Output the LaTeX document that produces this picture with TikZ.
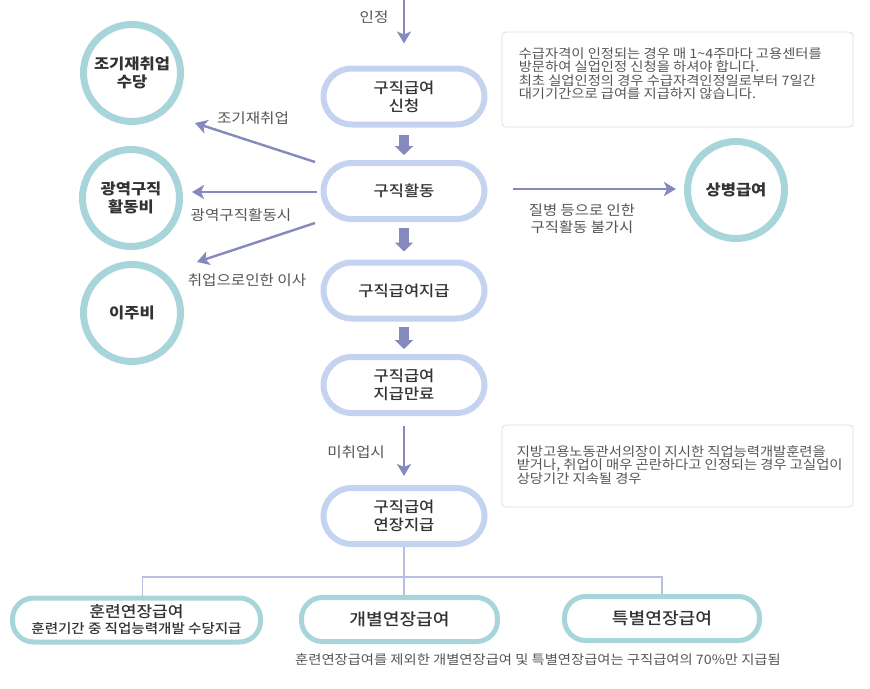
\documentclass[tikz,border=0pt]{standalone}
\usepackage{fontspec}
\setmainfont{Noto Sans CJK KR}[FakeStretch=1.1]
\newfontfamily\medfont{Noto Sans CJK KR}[UprightFont=* Medium, FakeStretch=1.1]
\usetikzlibrary{arrows.meta}
\definecolor{boxblue}{HTML}{C3D3F0}
\definecolor{tealc}{HTML}{A8D5D9}
\definecolor{arrowc}{HTML}{8589BC}
\definecolor{treec}{HTML}{B9BEE3}
\definecolor{notec}{HTML}{DDDDDD}
\definecolor{txt}{HTML}{333333}
\definecolor{lbl}{HTML}{555555}
\tikzset{
  flowbox/.style={draw=boxblue, line width=6pt, rounded corners=28pt, fill=white,
    minimum width=161pt, minimum height=56pt, align=center, text=txt,
    font=\medfont\fontsize{15}{18}\selectfont, inner sep=0pt},
  circ/.style={circle, draw=tealc, line width=7pt, minimum size=97pt, align=center,
    text=txt, font=\fontsize{15}{18}\selectfont\bfseries, inner sep=0pt},
  endbox/.style={draw=tealc, line width=5pt, rounded corners=21pt, fill=white,
    minimum height=44pt, align=center, text=txt, inner sep=0pt,
    font=\medfont\fontsize{16.5}{18}\selectfont},
  notebox/.style={draw=notec, line width=0.8pt, rounded corners=4pt, fill=white},
  notetext/.style={align=left, text=lbl, inner sep=0pt,
    font=\fontsize{13}{13.3}\selectfont},
  lab/.style={text=lbl, inner sep=0pt, font=\fontsize{14.2}{18}\selectfont, align=center},
  fat/.style={draw=arrowc, line width=10pt, -{Triangle[width=18pt,length=9pt]}},
  thin/.style={draw=arrowc, line width=2.4pt, -{Stealth[length=12pt,width=14pt,inset=3pt]}},
  tree/.style={draw=treec, line width=1.2pt},
}
\begin{document}
\begin{tikzpicture}[x=1pt,y=-1pt]
\useasboundingbox (0,0) rectangle (870,688);
% main flow
\node[flowbox] (b1) at (404,96.5) {구직급여\\신청};
\node[flowbox] (b2) at (404,191) {구직활동};
\node[flowbox] (b3) at (404,290.5) {구직급여지급};
\node[flowbox] (b4) at (404,385) {구직급여\\지급만료};
\node[flowbox] (b5) at (404,516) {구직급여\\연장지급};
% circles
\node[circ] (c1) at (132,73) {조기재취업\\수당};
\node[circ] (c2) at (131,198) {광역구직\\활동비};
\node[circ] (c3) at (132,313) {이주비};
\node[circ] (c4) at (736,190) {상병급여};
% notes
\node[notebox, minimum width=351pt, minimum height=95pt] (n1) at (677.5,79.5) {};
\node[notetext, anchor=north west] (n1t) at ([shift={(17,16)}]n1.north west)
  {수급자격이 인정되는 경우 매 1\textasciitilde4주마다 고용센터를\\방문하여 실업인정 신청을 하셔야 합니다.\\최초 실업인정의 경우 수급자격인정일로부터 7일간\\대기기간으로 급여를 지급하지 않습니다.};
\node[notebox, minimum width=351pt, minimum height=82pt] (n2) at (677.5,466) {};
\node[notetext, anchor=north west, font=\fontsize{13}{12.8}\selectfont] (n2t) at ([shift={(15,21)}]n2.north west)
  {지방고용노동관서의장이 지시한 직업능력개발훈련을\\받거나, 취업이 매우 곤란하다고 인정되는 경우 고실업이\\상당기간 지속될 경우};
% top arrow
\coordinate (top) at (404,0);
\draw[thin] (top) -- ([yshift=22pt]b1.north);
\node[lab] (l0) at (374,17) {인정};
% fat arrows
\draw[fat] ([yshift=-7pt]b1.south) -- ([yshift=5pt]b2.north);
\draw[fat] ([yshift=-6pt]b2.south) -- ([yshift=8pt]b3.north);
\draw[fat] ([yshift=-5pt]b3.south) -- ([yshift=5pt]b4.north);
% thin arrow to b5
\draw[thin] ([yshift=-10pt]b4.south) -- ([yshift=9pt]b5.north);
\node[lab] (l5) at (356,452) {미취업시};
% side arrows
\coordinate (s1) at (315,162);
\coordinate (e1) at (195,123);
\coordinate (s2) at (317,192);
\coordinate (e2) at (192,192);
\coordinate (s3) at (315,223);
\coordinate (e3) at (197,262);
\draw[thin] (s1) -- (e1);
\draw[thin] (s2) -- (e2);
\draw[thin] (s3) -- (e3);
\node[lab] (l1) at (253,118) {조기재취업};
\node[lab] (l2) at (241,215) {광역구직활동시};
\node[lab] (l3) at (247,280) {취업으로인한 이사};
\draw[thin] ([xshift=25pt,yshift=2pt]b2.east) -- ([xshift=-8pt,yshift=1pt]c4.west);
\node[lab, font=\fontsize{14}{17.5}\selectfont] (l4) at (582,219) {질병 등으로 인한\\구직활동 불가시};
% bottom
\node[endbox, minimum width=248pt] (d1) at (136.5,620) {\fontsize{15.5}{18}\selectfont 훈련연장급여\\[-2pt]\fontsize{13.2}{15}\selectfont 훈련기간 중 직업능력개발 수당지급};
\node[endbox, minimum width=196pt] (d2) at (399.5,619.5) {개별연장급여};
\node[endbox, minimum width=195pt] (d3) at (662,618.5) {특별연장급여};
\coordinate (bar) at (404,577);
\draw[tree] (b5.south) -- (bar);
\draw[tree] ([xshift=6pt]d1.north) |- (bar) -| (d3.north);
\draw[tree] (bar) -- (bar |- d2.north);
\node[lab, font=\fontsize{13}{16}\selectfont] (l6) at (538,660) {훈련연장급여를 제외한 개별연장급여 및 특별연장급여는 구직급여의 70\%만 지급됨};
\end{tikzpicture}
\end{document}
